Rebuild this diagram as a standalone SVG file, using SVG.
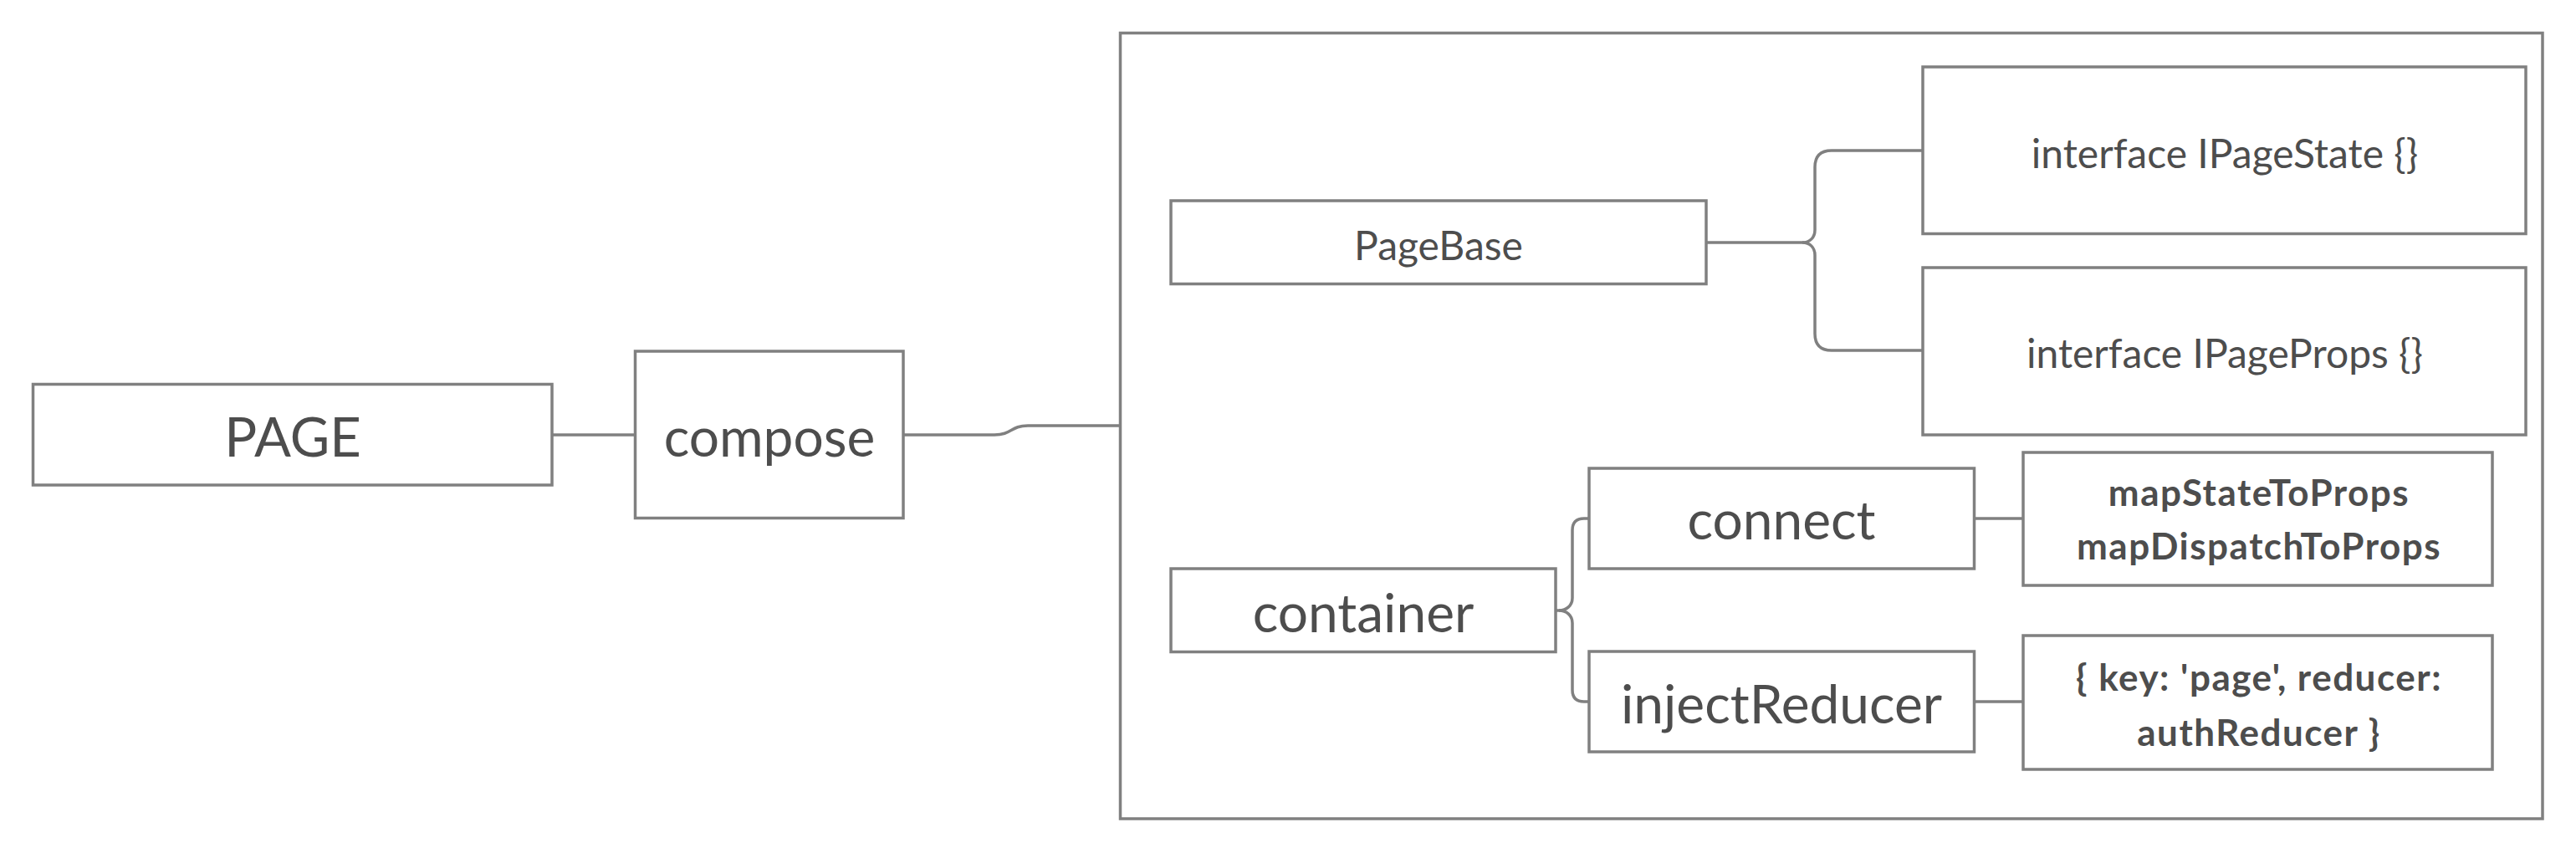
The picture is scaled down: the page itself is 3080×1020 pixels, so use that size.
<svg xmlns="http://www.w3.org/2000/svg" width="3080" height="1020" viewBox="0 0 3080 1020">
<style>
.box{fill:#ffffff;stroke:#808080;stroke-width:3.5}
.frame{fill:none;stroke:#808080;stroke-width:3.5}
.line{fill:none;stroke:#808080;stroke-width:3.5}
text{font-family:Lato,"Liberation Sans",sans-serif;fill:#4d4d4d;text-anchor:middle}
.xl{font-size:64px}
.md{font-size:48px}
.sm{font-size:44px;font-weight:bold;letter-spacing:1.5px}
</style>
<rect width="3080" height="1020" fill="#ffffff"/>
<g id="frame">
<rect class="frame" x="1339.5" y="39.5" width="1700.5" height="939.5"/>
</g>
<g id="connectors">
<path class="line" d="M660,520 H759"/>
<path class="line" d="M1080,520 H1189 C1210,520 1208,509 1229,509 H1339.5"/>
<path class="line" d="M2040,290 H2155 C2164,290 2170,284 2170,275 V200 Q2170,180 2190,180 H2299"/>
<path class="line" d="M2155,290 C2164,290 2170,296 2170,305 V399 Q2170,419 2190,419 H2299"/>
<path class="line" d="M1860,730 H1864 C1873,730 1880,724 1880,715 V634 Q1880,620 1894,620 H1900"/>
<path class="line" d="M1864,730 C1873,730 1880,736 1880,745 V825 Q1880,839 1894,839 H1900"/>
<path class="line" d="M2360,620 H2419"/>
<path class="line" d="M2360,839 H2419"/>
</g>
<g id="page">
<rect class="box" x="39.5" y="459.5" width="620.5" height="120.5"/>
<text x="350" y="546" style="font-size:65px">PAGE</text>
</g>
<g id="compose">
<rect class="box" x="759.5" y="420" width="320.5" height="199.5"/>
<text class="xl" x="920" y="545.5">compose</text>
</g>
<g id="pagebase">
<rect class="box" x="1400" y="240" width="640" height="99.5"/>
<text class="md" x="1720" y="310.5">PageBase</text>
</g>
<g id="ipagestate">
<rect class="box" x="2299" y="80" width="721" height="199.5"/>
<text class="md" x="2660" y="201">interface IPageState {}</text>
</g>
<g id="ipageprops">
<rect class="box" x="2299" y="320" width="721" height="200"/>
<text class="md" x="2660" y="440">interface IPageProps {}</text>
</g>
<g id="container">
<rect class="box" x="1400" y="680" width="460" height="99.5"/>
<text class="xl" x="1630" y="756">container</text>
</g>
<g id="connect">
<rect class="box" x="1900" y="560" width="460.5" height="120"/>
<text class="xl" x="2130" y="645">connect</text>
</g>
<g id="injectreducer">
<rect class="box" x="1900" y="779" width="460.5" height="120"/>
<text class="xl" x="2130" y="865">injectReducer</text>
</g>
<g id="mapprops">
<rect class="box" x="2419" y="541" width="561" height="159"/>
<text class="sm" x="2701" y="605">mapStateToProps</text>
<text class="sm" x="2701" y="669">mapDispatchToProps</text>
</g>
<g id="reducerconfig">
<rect class="box" x="2419" y="760" width="561" height="160"/>
<text class="sm" x="2701" y="826">{ key: 'page', reducer:</text>
<text class="sm" x="2701" y="892">authReducer }</text>
</g>
</svg>
